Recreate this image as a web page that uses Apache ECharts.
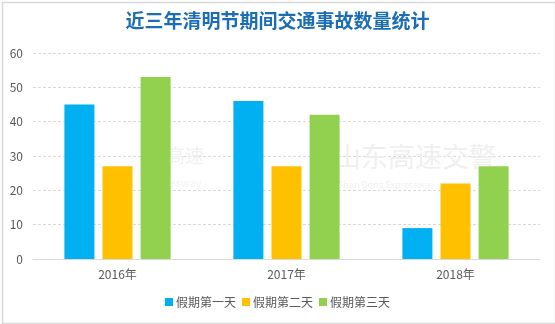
<!DOCTYPE html>
<html>
<head>
<meta charset="utf-8">
<script src="https://cdn.jsdelivr.net/npm/echarts@6/dist/echarts.min.js"></script>
<style>
  html, body { margin: 0; padding: 0; background: #fff; }
  #chart { width: 555px; height: 324px; }
</style>
</head>
<body>
<div id="chart"></div>
<script>
// Traffic accidents during the Qingming holiday, 2016-2018
const titleText = '近三年清明节期间交通事故数量统计';
const years = ['2016年', '2017年', '2018年'];
const seriesNames = ['假期第一天', '假期第二天', '假期第三天'];
const day1 = [45, 46, 9];
const day2 = [27, 27, 22];
const day3 = [53, 42, 27];
const yTicks = { min: 0, max: 60, interval: 10 };

const colors = ['#00b0f0', '#ffc000', '#92d050'];
const font = '"Microsoft YaHei", "Noto Sans CJK SC", sans-serif';

const chart = echarts.init(document.getElementById('chart'), null, { renderer: 'canvas' });

const values = [day1, day2, day3];
const series = seriesNames.map((name, i) => ({
  name: name,
  type: 'bar',
  data: values[i],
  barWidth: 30,
  barGap: '27%',
  itemStyle: { color: colors[i] },
  z: 3
}));

chart.setOption({
  backgroundColor: '#ffffff',
  animation: false,
  color: colors,
  title: {
    text: titleText,
    left: 'center',
    top: 6,
    textStyle: { color: '#1b6db4', fontSize: 19, fontWeight: 'bold', fontFamily: font }
  },
  grid: { left: 33, right: 15, top: 53, bottom: 65, containLabel: false },
  legend: {
    data: seriesNames,
    bottom: 11,
    left: 'center',
    itemWidth: 8,
    itemHeight: 8,
    itemGap: 6,
    icon: 'rect',
    textStyle: { color: '#595959', fontSize: 12, fontFamily: font, padding: [0, 0, 0, -2] }
  },
  xAxis: {
    type: 'category',
    data: years,
    axisLine: { lineStyle: { color: '#d9d9d9' } },
    axisTick: { show: false },
    axisLabel: { color: '#595959', fontSize: 12, fontFamily: font, margin: 9 }
  },
  yAxis: {
    type: 'value',
    min: yTicks.min,
    max: yTicks.max,
    interval: yTicks.interval,
    axisLine: { show: false },
    axisTick: { show: false },
    axisLabel: { color: '#595959', fontSize: 12, fontFamily: font, margin: 10 },
    splitLine: { lineStyle: { color: '#d9d9d9', type: [3, 2] } }
  },
  graphic: [
    {
      type: 'rect',
      left: 0, top: 0,
      shape: { x: 0.5, y: 0.5, width: 553, height: 321 },
      style: { fill: 'none', stroke: '#d9d9d9', lineWidth: 1.5 },
      silent: true
    },
    {
      type: 'text',
      left: 334, top: 143,
      z: 1,
      style: { text: '山东高速交警', fill: '#efefef', font: '27px ' + font }
    },
    {
      type: 'text',
      left: 338, top: 180,
      z: 1,
      style: { text: 'Shan Dong Expressway', fill: '#f0f0f0', font: '9px ' + font }
    },
    {
      type: 'text',
      left: 166, top: 146,
      z: 1,
      style: { text: '高速', fill: '#f0f0f0', font: '19px ' + font }
    },
    {
      type: 'text',
      left: 142, top: 177,
      z: 1,
      style: { text: 'Expressway', fill: '#f2f2f2', font: '11px ' + font }
    }
  ],
  series: series
});
</script>
</body>
</html>
